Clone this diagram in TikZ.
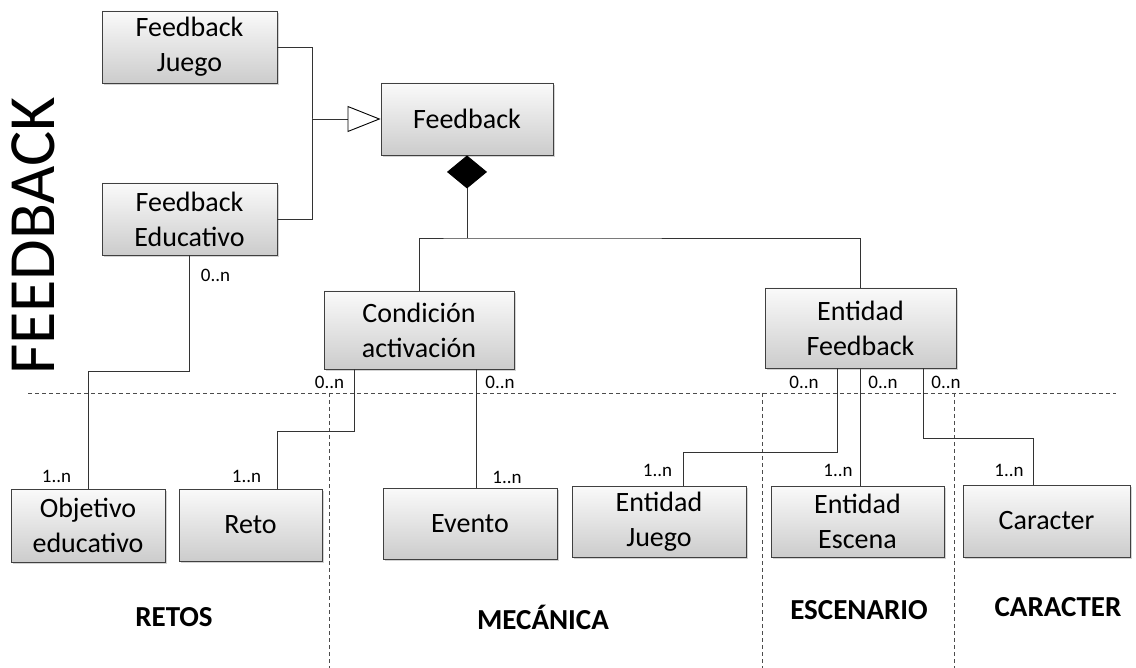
\documentclass[tikz,border=0pt]{standalone}
\usepackage{fontspec}
\setmainfont{Carlito}
\usetikzlibrary{arrows.meta,shadows,calc}

\begin{document}
\begin{tikzpicture}[x=1pt,y=-1pt,line width=0.9pt,
	box/.style={draw=black!75, top color=gray!4, bottom color=gray!40, drop shadow={shadow xshift=2pt, shadow yshift=-2pt, opacity=.35},
		align=center, inner sep=2pt, font=\fontsize{28}{35}\selectfont},
	mult/.style={font=\fontsize{19}{20}\selectfont, inner sep=0pt},
	zone/.style={font=\fontsize{29}{30}\selectfont\bfseries},
	sep/.style={draw=black!70, line width=0.8pt, dash pattern=on 4pt off 3pt},
	link/.style={draw=black!80}]
	
	\useasboundingbox (0,0) rectangle (1136,668);
	
	\draw[sep] (28,393) -- (1116,393);
	\draw[sep] (329,393) -- (329,668);
	\draw[sep] (762,393) -- (762,668);
	\draw[sep] (954,393) -- (954,668);
	
	\node[rotate=90, font=\fontsize{66}{66}\selectfont, inner sep=0pt] (title) at (33,236) {FEEDBACK};
	
	\node[box, minimum width=175pt, minimum height=72pt] (FJ) at (189.5,47) {Feedback\\Juego};
	\node[box, minimum width=175pt, minimum height=72pt] (FE) at (189.5,219) {Feedback\\Educativo};
	\node[box, minimum width=172pt, minimum height=72pt] (FB) at (467,119) {Feedback};
	\node[box, minimum width=190pt, minimum height=78pt] (Cond) at (419,330) {Condición\\activación};
	\node[box, minimum width=191pt, minimum height=80pt] (EF) at (860.5,328) {Entidad\\Feedback};
	\node[box, minimum width=154pt, minimum height=73pt] (Obj) at (88,525.5) {Objetivo\\educativo};
	\node[box, minimum width=143pt, minimum height=72pt] (Reto) at (250.5,525) {Reto};
	\node[box, minimum width=174pt, minimum height=71pt] (Evento) at (470,523.5) {Evento};
	\node[box, minimum width=174pt, minimum height=71pt] (EJ) at (659,521.5) {Entidad\\Juego};
	\node[box, minimum width=173pt, minimum height=71pt] (EE) at (857.5,521.5) {Entidad\\Escena};
	\node[box, minimum width=167pt, minimum height=72pt] (Car) at (1046.5,521) {Caracter};
	
	\coordinate (gen) at (312,119);
	\draw[link] (FJ.east) -| (gen);
	\draw[link] (FE.east) -| (gen);
	\draw[link, -{Triangle[open, length=33pt, width=26pt, color=black]}, fill=white] (gen) -- (FB.west);
	
	\coordinate (bus) at (467,238);
	\draw[link, {Diamond[length=33pt, width=40pt, color=black]}-] (FB.south) -- (bus);
	\draw[link] (Cond.north) |- (bus) -| (EF.north);
	
	\draw[link] (FE.south) -- ++(0,116) -| (Obj.north);
	\draw[link] ([xshift=-65pt]Cond.south) -- ++(0,62) -| ([xshift=26.5pt]Reto.north);
	\draw[link] ([xshift=57pt]Cond.south) -- ([xshift=57pt]Cond.south |- Evento.north);
	\draw[link] ([xshift=-23.5pt]EF.south) -- ++(0,84) -| ([xshift=24pt]EJ.north);
	\draw[link] (EF.south) -- (EF.south |- EE.north);
	\draw[link] ([xshift=62.5pt]EF.south) -- ++(0,70) -| ([xshift=-13.5pt]Car.north);
	
	\node[mult] (mFE) at (215.5,275) {0..n};
	\node[mult] (mCondA) at (329.5,382) {0..n};
	\node[mult] (mCondB) at (500,382) {0..n};
	\node[mult] (mEFa) at (804,382) {0..n};
	\node[mult] (mEFb) at (883,382) {0..n};
	\node[mult] (mEFc) at (946,382) {0..n};
	\node[mult] (mObj) at (56.5,476) {1..n};
	\node[mult] (mReto) at (246.5,476) {1..n};
	\node[mult] (mEvento) at (507,477) {1..n};
	\node[mult] (mEJ) at (657.5,470) {1..n};
	\node[mult] (mEE) at (838,470) {1..n};
	\node[mult] (mCar) at (1009,470) {1..n};
	
	\node[zone] (retos) at (174,617) {RETOS};
	\node[zone] (mecanica) at (543,617) {MECÁNICA};
	\node[zone] (escenario) at (859,610) {ESCENARIO};
	\node[zone] (caracter) at (1058,607) {CARACTER};
	
\end{tikzpicture}
\end{document}
